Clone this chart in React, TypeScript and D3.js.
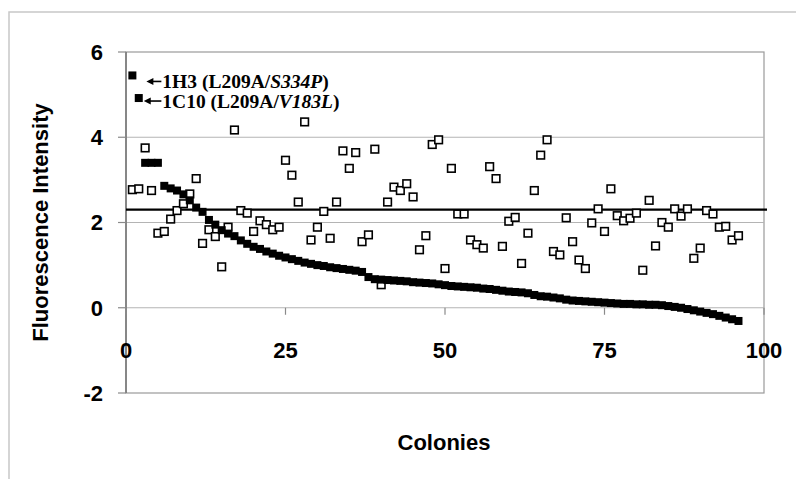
import * as d3 from "d3";

// Colony index 1..96, filled = ranked selection, open = unranked screen
const FILLED = [
  5.45, 4.92, 3.4, 3.4, 3.4, 2.86, 2.8, 2.75, 2.66, 2.52,
  2.35, 2.25, 2.06, 1.95, 1.82, 1.74, 1.68, 1.58, 1.5, 1.43,
  1.38, 1.32, 1.27, 1.22, 1.18, 1.14, 1.1, 1.06, 1.03, 1.0,
  0.98, 0.95, 0.93, 0.91, 0.89, 0.87, 0.84, 0.72, 0.67, 0.66,
  0.65, 0.64, 0.63, 0.62, 0.6, 0.59, 0.58, 0.57, 0.55, 0.53,
  0.51, 0.5, 0.49, 0.48, 0.47, 0.45, 0.44, 0.42, 0.4, 0.38,
  0.37, 0.36, 0.34, 0.3, 0.27, 0.26, 0.24, 0.22, 0.19, 0.17,
  0.16, 0.15, 0.14, 0.13, 0.12, 0.11, 0.1, 0.09, 0.09, 0.08,
  0.08, 0.07, 0.07, 0.06, 0.04, 0.02, 0.0, -0.03, -0.06, -0.09,
  -0.12, -0.15, -0.19, -0.23, -0.27, -0.31,
];

const OPEN = [
  2.77, 2.79, 3.75, 2.75, 1.75, 1.79, 2.08, 2.28, 2.44, 2.67,
  3.03, 1.51, 1.83, 1.67, 0.96, 1.89, 4.17, 2.28, 2.22, 1.79,
  2.04, 1.95, 1.83, 1.89, 3.46, 3.11, 2.48, 4.36, 1.59, 1.89,
  2.26, 1.63, 2.48, 3.68, 3.27, 3.64, 1.55, 1.71, 3.72, 0.54,
  2.48, 2.83, 2.75, 2.91, 2.6, 1.36, 1.69, 3.83, 3.94, 0.92,
  3.27, 2.2, 2.2, 1.59, 1.48, 1.4, 3.31, 3.03, 1.44, 2.03,
  2.12, 1.04, 1.75, 2.75, 3.58, 3.94, 1.32, 1.24, 2.11, 1.55,
  1.12, 0.92, 1.99, 2.32, 1.79, 2.79, 2.16, 2.04, 2.1, 2.22,
  0.88, 2.52, 1.45, 2.0, 1.89, 2.32, 2.15, 2.32, 1.16, 1.4,
  2.28, 2.2, 1.89, 1.91, 1.59, 1.69,
];

const THRESHOLD = 2.3;
const X_TICKS = [0, 25, 50, 75, 100];
const Y_TICKS = [-2, 0, 2, 4, 6];

const LABELS = [
  { index: 1, pre: "1H3 (L209A/", ital: "S334P", post: ")" },
  { index: 2, pre: "1C10 (L209A/", ital: "V183L", post: ")" },
];

export default function App() {
  const width = 796;
  const height = 479;
  const plot = { left: 126, right: 764, top: 52, bottom: 393 };

  const x = d3.scaleLinear().domain([0, 100]).range([plot.left, plot.right]);
  const y = d3.scaleLinear().domain([-2, 6]).range([plot.bottom, plot.top]);

  const sq = 7.6; // open marker
  const fsq = 8; // filled marker
  const axisFont = "'Liberation Sans', Arial, sans-serif";
  const serif = "'Liberation Serif', 'Times New Roman', serif";

  // arrow tips: first one leaves a gap, second sits right against the marker
  const arrowGap = [10, 1];
  const textX = x(5.7);

  return (
    <svg
      width={width}
      height={height}
      style={{ position: "absolute", left: 0, top: 0, background: "#fff" }}
    >
      {/* outer chart frame (right/bottom run off the page) */}
      <rect x={9} y={12} width={width} height={height} fill="none" stroke="#c8c8c8" strokeWidth={1.5} />

      {/* plot frame */}
      <rect
        x={plot.left}
        y={plot.top}
        width={plot.right - plot.left}
        height={plot.bottom - plot.top}
        fill="none"
        stroke="#9a9a9a"
        strokeWidth={1.2}
      />

      {/* gridlines */}
      {Y_TICKS.filter((t) => t > -2 && t < 6).map((t) => (
        <line key={t} x1={plot.left} x2={plot.right} y1={y(t)} y2={y(t)} stroke="#b4b4b4" strokeWidth={1.2} />
      ))}

      {/* y axis */}
      <line x1={plot.left} x2={plot.left} y1={plot.top} y2={plot.bottom} stroke="#6e6e6e" strokeWidth={1.4} />
      {Y_TICKS.map((t) => (
        <g key={t}>
          <line x1={plot.left - 8} x2={plot.left} y1={y(t)} y2={y(t)} stroke="#8a8a8a" strokeWidth={1.2} />
          <text
            x={103}
            y={y(t)}
            dy="0.36em"
            textAnchor="end"
            fontFamily={axisFont}
            fontWeight="bold"
            fontSize={22}
            fill="#000"
          >
            {t}
          </text>
        </g>
      ))}

      {/* x ticks on the zero line */}
      {X_TICKS.map((t) => (
        <g key={t}>
          <line x1={x(t)} x2={x(t)} y1={y(0)} y2={y(0) + 7} stroke="#8a8a8a" strokeWidth={1.2} />
          <text
            x={x(t)}
            y={350}
            dy="0.36em"
            textAnchor="middle"
            fontFamily={axisFont}
            fontWeight="bold"
            fontSize={22}
            fill="#000"
          >
            {t}
          </text>
        </g>
      ))}

      {/* threshold */}
      <line x1={plot.left} x2={plot.right + 3} y1={y(THRESHOLD)} y2={y(THRESHOLD)} stroke="#000" strokeWidth={2.2} />

      {/* open squares */}
      {OPEN.map((v, i) => (
        <rect
          key={"o" + i}
          x={x(i + 1) - sq / 2}
          y={y(v) - sq / 2}
          width={sq}
          height={sq}
          fill="#fff"
          stroke="#000"
          strokeWidth={1.6}
        />
      ))}

      {/* filled squares */}
      {FILLED.map((v, i) => (
        <rect key={"f" + i} x={x(i + 1) - fsq / 2} y={y(v) - fsq / 2} width={fsq} height={fsq} fill="#000" />
      ))}

      {/* annotations */}
      {LABELS.map((a, k) => {
        const px = x(a.index);
        const py = y(FILLED[a.index - 1]);
        const ay = py + (k === 0 ? 6 : 3);
        const tip = px + fsq / 2 + arrowGap[k];
        return (
          <g key={a.index}>
            <line x1={tip + 4} x2={textX - 1} y1={ay} y2={ay} stroke="#000" strokeWidth={1.6} />
            <path d={`M${tip},${ay} L${tip + 7},${ay - 3.5} L${tip + 7},${ay + 3.5} Z`} fill="#000" />
            <text
              x={textX}
              y={ay + 7}
              fontFamily={serif}
              fontWeight="bold"
              fontSize={19.5}
              fill="#000"
            >
              {a.pre}
              <tspan fontStyle="italic">{a.ital}</tspan>
              {a.post}
            </text>
          </g>
        );
      })}

      {/* axis titles */}
      <text
        transform={`translate(40,${(plot.top + plot.bottom) / 2}) rotate(-90)`}
        textAnchor="middle"
        dy="0.36em"
        fontFamily={axisFont}
        fontWeight="bold"
        fontSize={22}
        fill="#000"
      >
        Fluorescence Intensity
      </text>
      <text
        x={444}
        y={442}
        dy="0.36em"
        textAnchor="middle"
        fontFamily={axisFont}
        fontWeight="bold"
        fontSize={22}
        fill="#000"
      >
        Colonies
      </text>
    </svg>
  );
}
